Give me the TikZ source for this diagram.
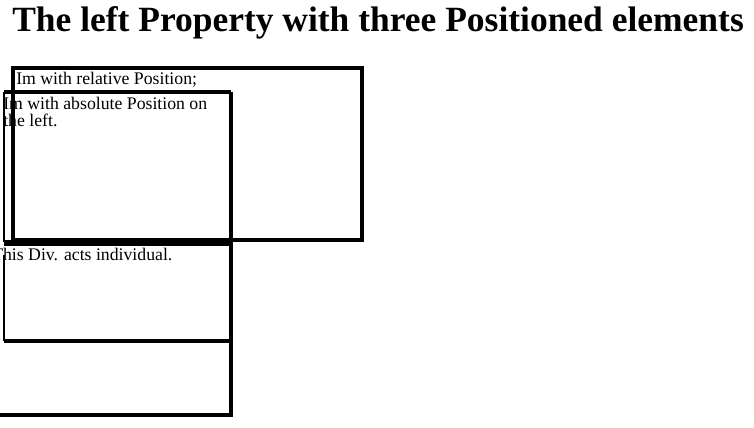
\documentclass[tikz,border=0pt]{standalone}
\usepackage{fontspec}
\setmainfont{Liberation Serif}
\begin{document}
\begin{tikzpicture}[x=0.75pt,y=-0.75pt,
  boxline/.style={line width=3pt,draw=black},
  thinline/.style={line width=2.2pt,draw=black},
  body/.style={anchor=base west,inner sep=0pt,font=\fontsize{13.3}{15}\selectfont},
  titlestyle/.style={anchor=base west,inner sep=0pt,font=\fontsize{26.6}{30}\selectfont\bfseries}]
\useasboundingbox[fill=white] (0,0) rectangle (754,428);
\node[titlestyle] (title) at (12,32) {The left Property with three Positioned elements};
% relative box
\draw[boxline] (13,68) rectangle (362,240);
% absolute box
\draw[boxline] (231,92) -- (4,92);
\draw[boxline] (231,92) -- (231,242) -- (4,242);
\draw[thinline] (4,92) -- (4,242);
% individual box
\draw[boxline] (4,244) -- (231,244) -- (231,341) -- (4,341);
\draw[thinline] (4,255) -- (4,341);
% outer lower box
\draw[boxline] (231,341) -- (231,415) -- (0,415);
\node[body] (rel) at (16,85) {Im with relative Position;};
\node[body] (abs1) at (3,110) {Im with absolute Position on};
\node[body] (abs2) at (3,127) {the left.};
\node[body] (ind) at (-8,260) {This Div. acts individual.};
\end{tikzpicture}
\end{document}
